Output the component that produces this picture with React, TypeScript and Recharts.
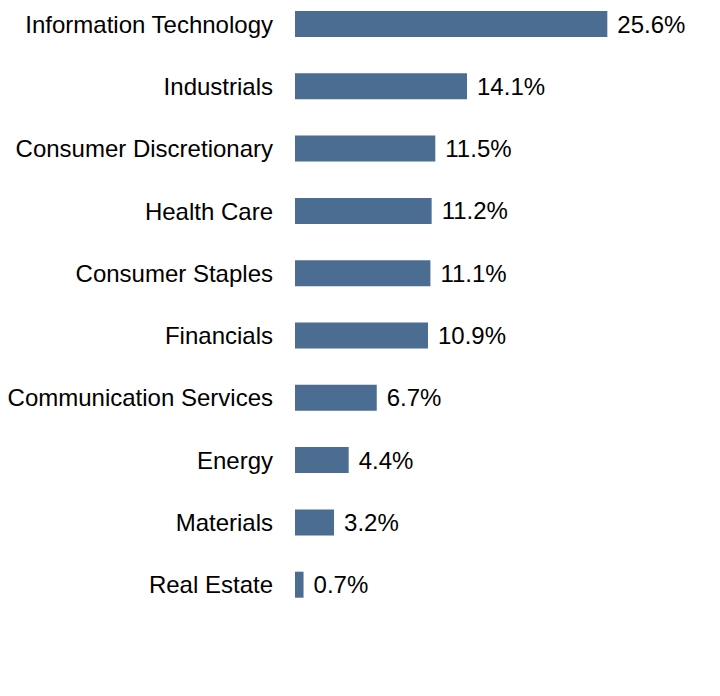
import { BarChart, Bar, XAxis, YAxis, LabelList } from "recharts"

const sectors = [
  "Information Technology",
  "Industrials",
  "Consumer Discretionary",
  "Health Care",
  "Consumer Staples",
  "Financials",
  "Communication Services",
  "Energy",
  "Materials",
  "Real Estate",
]

const weights = [25.6, 14.1, 11.5, 11.2, 11.1, 10.9, 6.7, 4.4, 3.2, 0.7]

const data = sectors.map((name, i) => ({ name, value: weights[i] }))

const font = "'Liberation Sans', Arial, sans-serif"

export default function App() {
  return (
    <div style={{ position: "relative", top: -15, left: -8, fontFamily: font }}>
      <BarChart
        width={720}
        height={703}
        data={data}
        layout="vertical"
        margin={{ top: 0, right: 59, left: 0, bottom: 80 }}
      >
        <XAxis type="number" domain={[0, 30]} hide />
        <YAxis
          type="category"
          dataKey="name"
          width={295}
          axisLine={false}
          tickLine={false}
          tickSize={0}
          tickMargin={22}
          interval={0}
          tick={{ fill: "#000", fontSize: 24, fontFamily: font }}
        />
        <Bar dataKey="value" fill="#4a6d91" barSize={26} isAnimationActive={false}>
          <LabelList
            dataKey="value"
            position="right"
            offset={10}
            formatter={(v: number) => `${v.toFixed(1)}%`}
            style={{ fill: "#000", fontSize: 24, fontFamily: font }}
          />
        </Bar>
      </BarChart>
    </div>
  )
}
